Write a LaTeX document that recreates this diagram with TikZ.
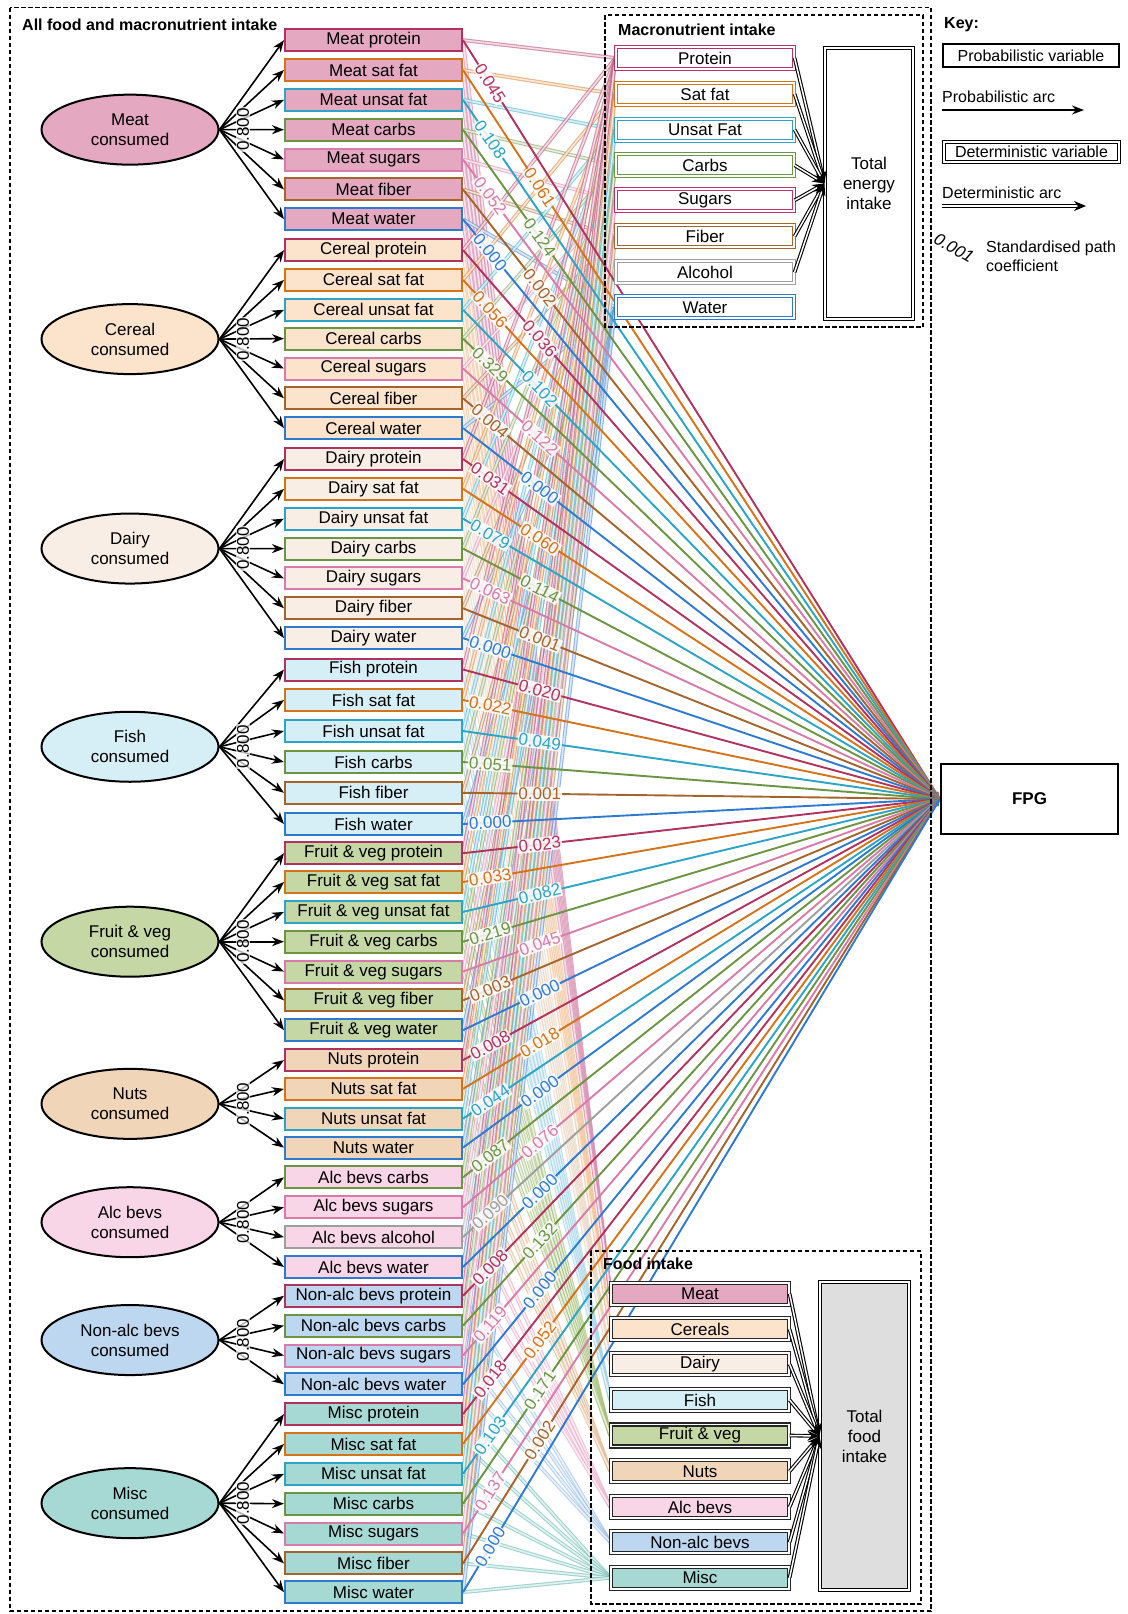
\documentclass[tikz,border=0pt]{standalone}
\usepackage{fontspec}
\setmainfont{Liberation Sans}
\usetikzlibrary{arrows.meta,shapes.geometric}
\pgfdeclarelayer{bgw}
\pgfdeclarelayer{faint}
\pgfdeclarelayer{fpgl}
\pgfdeclarelayer{labs}
\pgfsetlayers{bgw,faint,fpgl,labs,main}
% food fills
\definecolor{F-meat}{HTML}{E4A8C0}
\definecolor{F-cereal}{HTML}{FBE3CC}
\definecolor{F-dairy}{HTML}{F8EEE6}
\definecolor{F-fish}{HTML}{D6EEF5}
\definecolor{F-fv}{HTML}{C4D7A5}
\definecolor{F-nuts}{HTML}{F0D5B9}
\definecolor{F-alc}{HTML}{F8D5E7}
\definecolor{F-nonalc}{HTML}{BDD7F0}
\definecolor{F-misc}{HTML}{A6D8D4}
% food line colours
\definecolor{L-meat}{HTML}{D98DB0}
\definecolor{L-cereal}{HTML}{F3C297}
\definecolor{L-dairy}{HTML}{EBD6C2}
\definecolor{L-fish}{HTML}{A0D4E8}
\definecolor{L-fv}{HTML}{A4BF78}
\definecolor{L-nuts}{HTML}{E2B88F}
\definecolor{L-alc}{HTML}{EDACCB}
\definecolor{L-nonalc}{HTML}{9CBFE8}
\definecolor{L-misc}{HTML}{78C2BC}
% nutrient colours
\definecolor{C-protein}{HTML}{B0325E}
\definecolor{C-satfat}{HTML}{D4731A}
\definecolor{C-unsat}{HTML}{2CA4C6}
\definecolor{C-carbs}{HTML}{6B9443}
\definecolor{C-sugars}{HTML}{D87BAA}
\definecolor{C-fiber}{HTML}{A4642C}
\definecolor{C-water}{HTML}{2E7AD1}
\definecolor{C-alcohol}{HTML}{9E9E9E}
\definecolor{M-protein}{HTML}{B83064}
\definecolor{M-satfat}{HTML}{D4731A}
\definecolor{M-unsat}{HTML}{2CA4C6}
\definecolor{M-carbs}{HTML}{6B9443}
\definecolor{M-sugars}{HTML}{C0306E}
\definecolor{M-fiber}{HTML}{A4642C}
\definecolor{M-water}{HTML}{2E7AD1}
\definecolor{M-alcohol}{HTML}{9E9E9E}
\definecolor{totgray}{HTML}{DEDEDE}

\tikzset{
 txtbase/.style={font=\fontsize{17}{20}\selectfont, inner sep=0pt},
 foodbox/.style={txtbase, rectangle, line width=2pt, minimum width=177pt, minimum height=22pt},
 consumed/.style={txtbase, ellipse, draw=black, line width=2pt, minimum width=177pt, minimum height=70pt, align=center},
 detbox/.style={txtbase, rectangle, draw=#1, double=white, double distance=1.7pt, line width=1.2pt, minimum width=178pt, minimum height=22pt},
 detbox/.default=black,
 container/.style={draw=black, line width=1.6pt, dash pattern=on 4.5pt off 2.5pt},
 ttl/.style={font=\bfseries\fontsize{16}{19}\selectfont, anchor=west, inner sep=0pt},
 keytxt/.style={font=\fontsize{16}{19}\selectfont, inner sep=0pt},
 probarrow/.style={-{Stealth[length=12pt,width=9pt]}, line width=1.6pt, draw=black},
 detarrow/.style={-{Stealth[length=12pt,width=10pt]}, draw=black, double=white, double distance=1.5pt, line width=1.1pt},
 fpgline/.style={-{Stealth[length=7pt,width=5pt]}, line width=1.9pt},
 faintline/.style={double=white, double distance=1.6pt, line width=1.1pt, opacity=0.7},
 coef/.style={font=\fontsize{17}{20}\selectfont, fill=white, fill opacity=0.85, text opacity=1, inner sep=1pt, sloped},
 eightlab/.style={font=\fontsize{17}{20}\selectfont, rotate=90, fill=white, fill opacity=0.7, text opacity=1, inner sep=1pt}
}

\def\items{1/40.1/Meat protein/meat/protein/0.045,
2/70.0/Meat sat fat/meat/satfat/0.061,
3/99.8/Meat unsat fat/meat/unsat/0.108,
4/129.7/Meat carbs/meat/carbs/0.124,
5/159.5/Meat sugars/meat/sugars/0.052,
6/189.4/Meat fiber/meat/fiber/0.002,
7/219.2/Meat water/meat/water/0.000,
8/250.1/Cereal protein/cereal/protein/0.036,
9/279.9/Cereal sat fat/cereal/satfat/0.056,
10/309.8/Cereal unsat fat/cereal/unsat/0.102,
11/338.6/Cereal carbs/cereal/carbs/0.329,
12/368.5/Cereal sugars/cereal/sugars/0.122,
13/398.3/Cereal fiber/cereal/fiber/0.004,
14/428.1/Cereal water/cereal/water/0.000,
15/459.0/Dairy protein/dairy/protein/0.031,
16/488.9/Dairy sat fat/dairy/satfat/0.060,
17/518.7/Dairy unsat fat/dairy/unsat/0.079,
18/548.6/Dairy carbs/dairy/carbs/0.114,
19/578.4/Dairy sugars/dairy/sugars/0.063,
20/608.3/Dairy fiber/dairy/fiber/0.001,
21/638.1/Dairy water/dairy/water/0.000,
22/669.5/Fish protein/fish/protein/0.020,
23/700.0/Fish sat fat/fish/satfat/0.022,
24/731.0/Fish unsat fat/fish/unsat/0.049,
25/762.0/Fish carbs/fish/carbs/0.051,
26/792.8/Fish fiber/fish/fiber/0.001,
27/824.0/Fish water/fish/water/0.000,
28/853.2/Fruit \& veg protein/fv/protein/0.023,
29/882.0/Fruit \& veg sat fat/fv/satfat/0.033,
30/911.9/Fruit \& veg unsat fat/fv/unsat/0.082,
31/941.7/Fruit \& veg carbs/fv/carbs/0.219,
32/971.6/Fruit \& veg sugars/fv/sugars/0.045,
33/1000.4/Fruit \& veg fiber/fv/fiber/0.003,
34/1030.2/Fruit \& veg water/fv/water/0.000,
35/1060.1/Nuts protein/nuts/protein/0.008,
36/1088.9/Nuts sat fat/nuts/satfat/0.018,
37/1118.7/Nuts unsat fat/nuts/unsat/0.044,
38/1147.6/Nuts water/nuts/water/0.000,
39/1177.4/Alc bevs carbs/alc/carbs/0.087,
40/1207.3/Alc bevs sugars/alc/sugars/0.076,
41/1237.1/Alc bevs alcohol/alc/alcohol/0.090,
42/1267.0/Alc bevs water/alc/water/0.000,
43/1295.8/Non-alc bevs protein/nonalc/protein/0.008,
44/1325.6/Non-alc bevs carbs/nonalc/carbs/0.132,
45/1355.5/Non-alc bevs sugars/nonalc/sugars/0.119,
46/1384.3/Non-alc bevs water/nonalc/water/0.000,
47/1414.1/Misc protein/misc/protein/0.018,
48/1444.0/Misc sat fat/misc/satfat/0.052,
49/1473.8/Misc unsat fat/misc/unsat/0.103,
50/1503.7/Misc carbs/misc/carbs/0.171,
51/1533.5/Misc sugars/misc/sugars/0.137,
52/1563.4/Misc fiber/misc/fiber/0.002,
53/1592.2/Misc water/misc/water/0.000}

\def\groups{meat/129.65/Meat, cereal/339.1/Cereal, dairy/548.55/Dairy, fish/746.75/Fish, fv/941.7/Fruit \& veg, nuts/1103.85/Nuts, alc/1222.2/Alc bevs, nonalc/1340.05/Non-alc bevs, misc/1503.15/Misc}

\begin{document}
\begin{tikzpicture}[x=1pt,y=-1pt]
\useasboundingbox (0,0) rectangle (1127,1614);
\begin{pgfonlayer}{bgw}
\fill[white] (0,0) rectangle (1127,1614);
\end{pgfonlayer}

% ---------- food / nutrient boxes ----------
\foreach \i/\y/\txt/\fd/\nt/\cf in \items {
  \node[foodbox, fill=F-\fd, draw=C-\nt] (b\i) at (373.5,\y) {\txt};
}
% ---------- consumed ellipses ----------
\foreach \fd/\y/\txt in \groups {
  \node[consumed, fill=F-\fd] (e-\fd) at (130,\y) {\txt\\consumed};
}

% ---------- macronutrient intake ----------
\foreach \nt/\y/\txt in {protein/58/Protein, satfat/94/Sat fat, unsat/129.7/Unsat Fat, carbs/165.3/Carbs, sugars/200.3/Sugars, fiber/236.3/Fiber, alcohol/272.2/Alcohol, water/307.3/Water} {
  \node[detbox=M-\nt, fill=white] (m-\nt) at (705,\y) {\txt};
}
\node[detbox, fill=white, minimum width=88pt, minimum height=271pt, align=center] (te) at (869,183.5) {Total\\energy\\intake};

% ---------- food intake ----------
\foreach \fd/\y/\txt in {meat/1293.7/Meat, cereal/1329.2/Cereals, dairy/1364.2/Dairy, fish/1400/Fish, fv/1435.5/Fruit \& veg, nuts/1471.3/Nuts, alc/1507/Alc bevs, nonalc/1542.2/Non-alc bevs, misc/1577.8/Misc} {
  \node[detbox=black!85, fill=F-\fd] (fi-\fd) at (700,\y) {\txt};
}
\node[detbox, fill=totgray, minimum width=89pt, minimum height=308pt, align=center] (tf) at (864.5,1436) {Total\\food\\intake};

% ---------- FPG ----------
\node[txtbase, draw=black, line width=2.2pt, minimum width=177pt, minimum height=70pt, font=\bfseries\fontsize{17}{20}\selectfont] (fpg) at (1029.5,799) {FPG};

% ---------- faint deterministic links ----------
\begin{pgfonlayer}{faint}
\foreach \i/\y/\txt/\fd/\nt/\cf in \items {
  \draw[faintline, draw=L-\fd] (b\i.east) -- (fi-\fd.west);
  \draw[faintline, draw=C-\nt!75] (b\i.east) -- (m-\nt.west);
}
\end{pgfonlayer}

% ---------- FPG links ----------
\begin{pgfonlayer}{fpgl}
\foreach \i/\y/\txt/\fd/\nt/\cf in \items {
  \draw[fpgline, draw=C-\nt] (b\i.east) -- (fpg.west);
}
\end{pgfonlayer}
\begin{pgfonlayer}{labs}
\foreach \i/\y/\txt/\fd/\nt/\cf in \items {
  \pgfmathsetmacro\p{ifthenelse(mod(\i,2)==1,0.057,0.161)}
  \path (b\i.east) -- (fpg.west) node[coef, text=C-\nt, pos=\p] (c\i) {\cf};
}
\end{pgfonlayer}

% ---------- probabilistic arcs from ellipses ----------
\foreach \i/\y/\txt/\fd/\nt/\cf in \items {
  \draw[probarrow] (e-\fd.east) -- (b\i.west);
}
\foreach \fd/\y/\txt in \groups {
  \node[eightlab] (v-\fd) at (243,\y) {0.800};
}

% ---------- deterministic arcs ----------
\foreach \nt in {protein,satfat,unsat,carbs,sugars,fiber,alcohol} {
  \draw[detarrow] (m-\nt.east) -- (te.west);
}
\foreach \fd in {meat,cereal,dairy,fish,fv,nuts,alc,nonalc,misc} {
  \draw[detarrow] (fi-\fd.east) -- (tf.west);
}

% ---------- containers and titles ----------
\draw[container] (10,7.5) rectangle (931,1611);
\draw[container] (605,15) rectangle (923,327);
\draw[container] (591,1251) rectangle (921,1604);
\node[ttl] (t-all) at (22,25) {All food and macronutrient intake};
\node[ttl] (t-mac) at (618,30) {Macronutrient intake};
\node[ttl] (t-food) at (603,1264) {Food intake};

% ---------- key ----------
\node[ttl] (t-key) at (944,25) {Key:};
\node[keytxt, draw=black, line width=1.5pt, minimum width=176pt, minimum height=23pt] (kpv) at (1031,55.5) {Probabilistic variable};
\node[keytxt, anchor=west] (kpa) at (942,97) {Probabilistic arc};
\coordinate (kpa1) at (942,110);
\coordinate (kpa2) at (1084,110);
\draw[probarrow, line width=1.4pt] (kpa1) -- (kpa2);
\node[detbox, keytxt, minimum width=175pt, minimum height=20pt] (kdv) at (1031.5,152) {Deterministic variable};
\node[keytxt, anchor=west] (kda) at (942,193) {Deterministic arc};
\coordinate (kda1) at (942,206);
\coordinate (kda2) at (1086,206);
\draw[detarrow] (kda1) -- (kda2);
\node[font=\itshape\fontsize{17}{20}\selectfont, inner sep=0pt, rotate=-30] (kcoef) at (954,248) {0.001};
\node[keytxt, anchor=west, align=left] (kcoeft) at (986,256) {Standardised path\\coefficient};
\end{tikzpicture}
\end{document}
